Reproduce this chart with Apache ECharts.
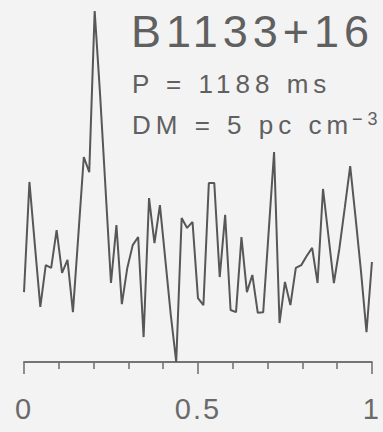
<!DOCTYPE html>
<html>
<head>
<meta charset="utf-8">
<script src="https://cdn.jsdelivr.net/npm/echarts@6/dist/echarts.min.js"></script>
<style>
  html, body { margin: 0; padding: 0; background: #f3f3f3; }
  #chart { width: 383px; height: 432px; }
  /* wide tracking on the annotations, tighter on the phase labels */
  #chart svg text { letter-spacing: 5px; }
  #chart svg text[style*="29px"] { letter-spacing: 2px; }
</style>
</head>
<body>
<div id="chart"></div>
<script>
// Pulse profile of B1133+16: 64 phase bins plus the closing bin at phase 1
const nBins = 64;
const intensity = [
  0.199, 0.513, 0.333, 0.157, 0.276, 0.268, 0.376, 0.254,
  0.291, 0.142, 0.362, 0.584, 0.541, 1.000, 0.761, 0.493,
  0.225, 0.390, 0.165, 0.268, 0.333, 0.356, 0.071, 0.467,
  0.339, 0.447, 0.291, 0.134, 0.000, 0.410, 0.382, 0.399,
  0.182, 0.162, 0.510, 0.510, 0.242, 0.419, 0.148, 0.142,
  0.356, 0.199, 0.248, 0.140, 0.142, 0.370, 0.598, 0.111,
  0.228, 0.162, 0.268, 0.276, 0.302, 0.325, 0.225, 0.493,
  0.359, 0.225, 0.322, 0.439, 0.558, 0.410, 0.256, 0.085,
  0.285
];
const phaseTicks = [0, 0.5, 1];
const pulsarName = 'B1133+16';
const periodText = 'P = 1188 ms';
const dmText = 'DM = 5 pc cm';
const dmUnitPower = '−3';

const profile = intensity.map((v, i) => [i / nBins, v]);

const ink = '#575757';
const textInk = '#606060';
const font = '"Liberation Sans", Arial, sans-serif';

function label(x, y, text, size) {
  return {
    type: 'text', x: x, y: y,
    style: {
      text: text, font: size + 'px ' + font, fill: textInk,
      textAlign: 'left', textVerticalAlign: 'middle', align: 'left', verticalAlign: 'middle'
    }
  };
}

const chart = echarts.init(document.getElementById('chart'), null, { renderer: 'svg' });
chart.setOption({
  backgroundColor: '#f3f3f3',
  animation: false,
  grid: { left: 24, right: 4, top: 11, bottom: 70 },
  xAxis: {
    type: 'value',
    min: 0,
    max: 1,
    interval: 0.5,
    offset: 10,
    axisLine: { show: true, lineStyle: { color: '#747474', width: 1.8 } },
    axisTick: { show: true, inside: false, length: 12, lineStyle: { color: '#747474', width: 1.6 } },
    minorTick: { show: true, splitNumber: 5, length: 7, lineStyle: { color: '#747474', width: 1.6 } },
    splitLine: { show: false },
    axisLabel: {
      margin: 22,
      fontFamily: font,
      fontSize: 29,
      color: '#6a6a6a',
      showMinLabel: true,
      showMaxLabel: true,
      formatter: v => (phaseTicks.includes(v) ? String(v) : '')
    }
  },
  yAxis: { type: 'value', min: 0, max: 1, show: false },
  series: [{
    type: 'line',
    data: profile,
    symbol: 'none',
    clip: false,
    lineStyle: { color: ink, width: 2 }
  }],
  graphic: [
    label(131, 31, pulsarName, 45),
    label(132, 84, periodText, 26),
    label(132, 125, dmText, 26),
    label(352, 119, dmUnitPower, 18)
  ]
});
</script>
</body>
</html>
